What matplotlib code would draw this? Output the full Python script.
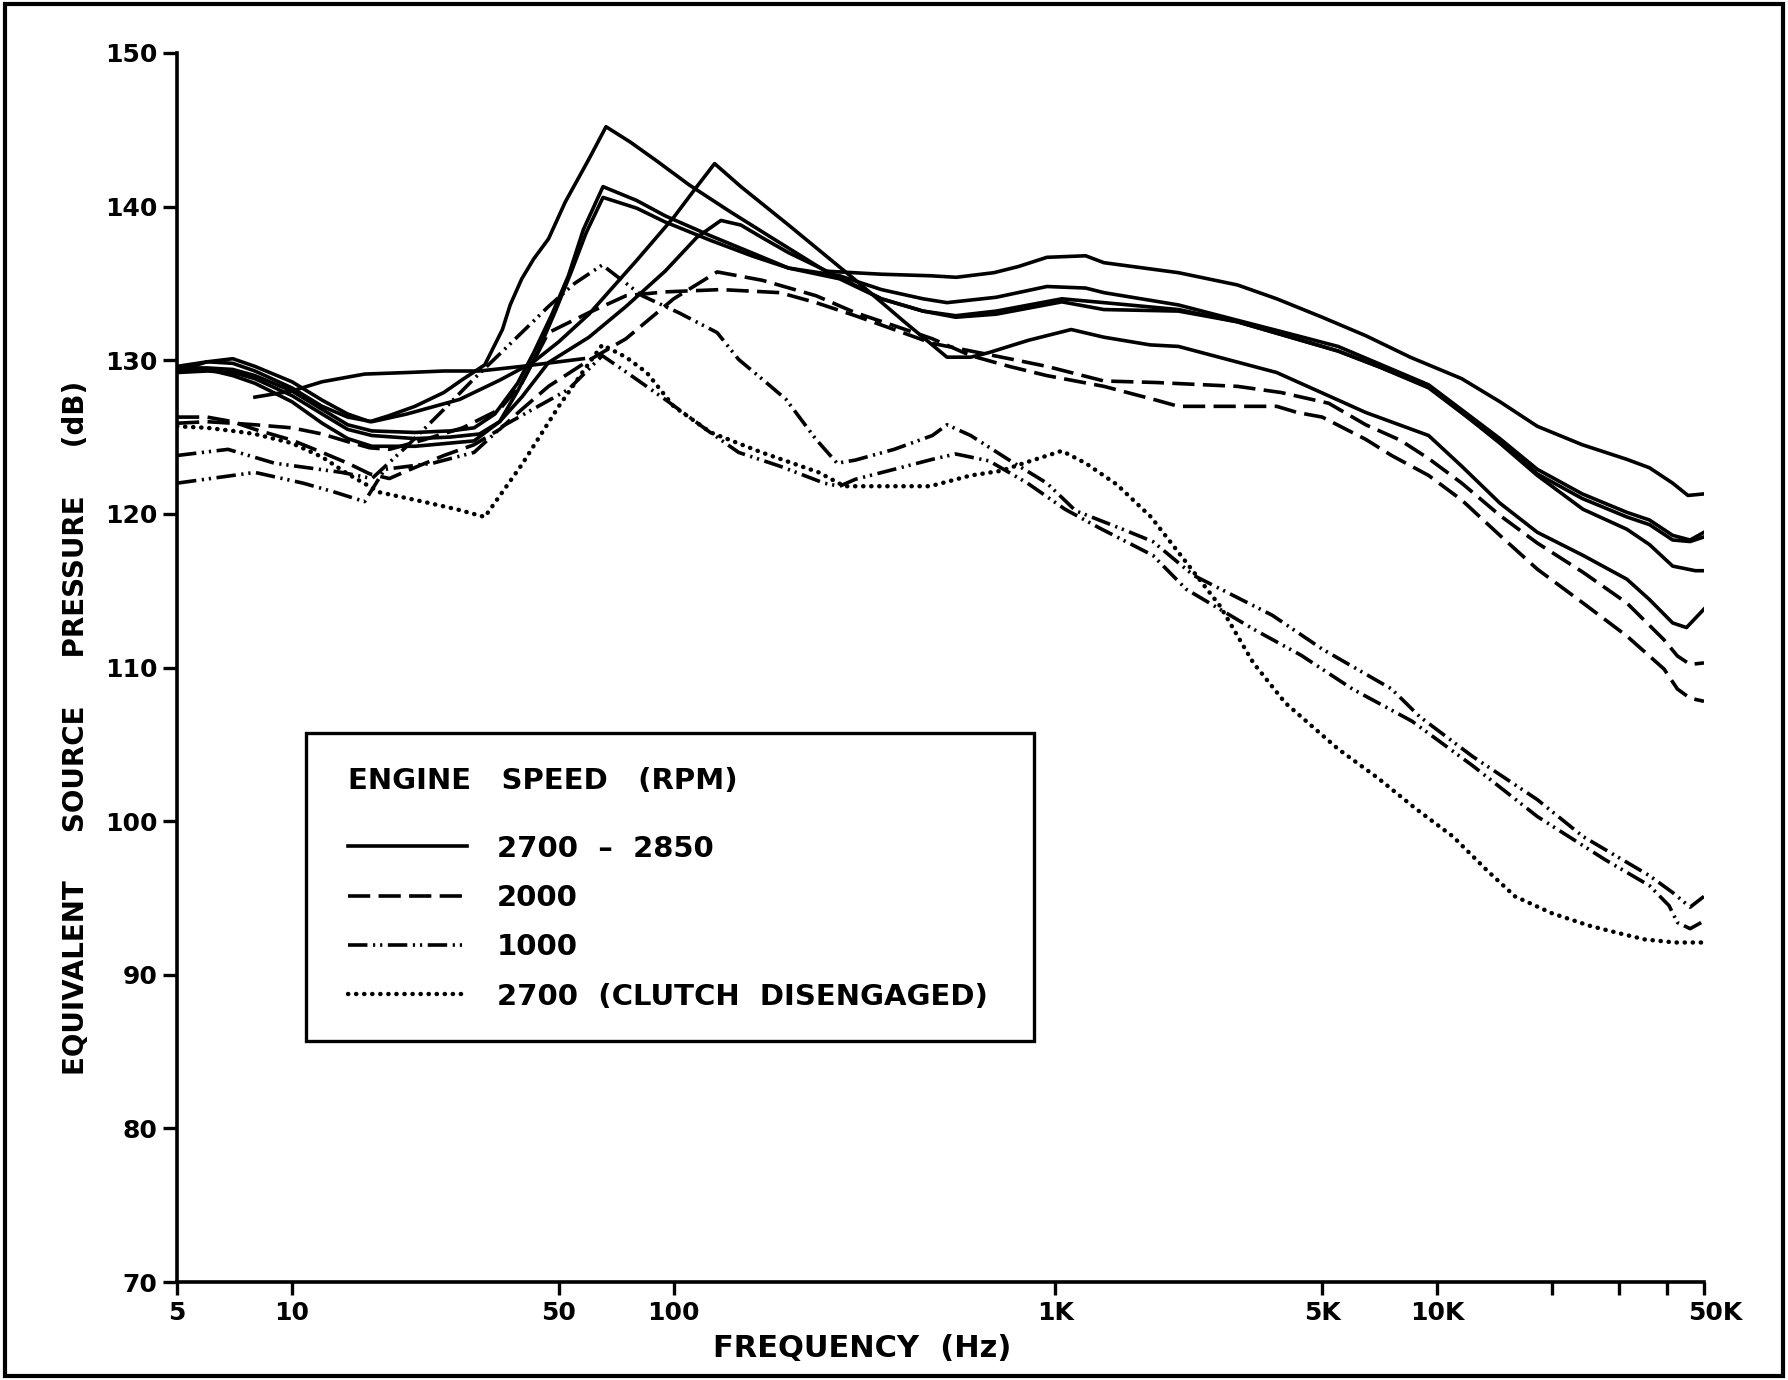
import matplotlib
matplotlib.use("Agg")
import matplotlib.pyplot as plt
import matplotlib.transforms as mtransforms
from matplotlib.lines import Line2D
from matplotlib.patches import Rectangle

plt.rcParams["font.family"] = ["DejaVu Sans"]
plt.rcParams["font.weight"] = "bold"
plt.rcParams["lines.scale_dashes"] = False

# ---- data: frequency (Hz) and level (dB) ----
# 2700-2850 rpm, solid lines
s1_f = [5, 6, 7, 8, 10, 12, 14, 16, 18, 21, 25, 28, 32, 35.6, 37.3, 40, 43, 47, 52, 60, 66.5, 77, 90, 110, 140, 180,
        250, 350, 470, 550, 690, 800, 950, 1200, 1340, 2100, 3000, 3800, 5000, 6500, 8500, 11600, 14600, 18300,
        24000, 31400, 36000, 41400, 45400, 50000]
s1_db = [129.3, 129.9, 130.1, 129.6, 128.6, 127.4, 126.5, 126.0, 126.4, 127.0, 127.9, 128.75, 129.7, 132.0, 133.6,
         135.3, 136.6, 137.9, 140.3, 143.1, 145.2, 144.2, 143.0, 141.4, 139.7, 138.0, 135.8, 135.6, 135.5, 135.4,
         135.7, 136.1, 136.7, 136.8, 136.35, 135.7, 134.9, 134.0, 132.8, 131.6, 130.2, 128.8, 127.3, 125.7, 124.5,
         123.55, 123.0, 122.0, 121.2, 121.3]

s2_f = [5, 6, 7, 8, 10, 12, 14, 16.2, 21, 26, 30, 34, 39, 43, 48, 53, 58, 65.3, 80, 95, 125, 160, 200, 272, 350,
        450, 520, 700, 950, 1200, 1340, 2100, 3000, 4000, 5500, 7000, 9500, 12000, 14600, 18300, 24000, 31400,
        36000, 41400, 46000, 50000]
s2_db = [129.5, 129.5, 129.4, 129.0, 128.0, 126.8, 125.8, 125.4, 125.3, 125.4, 125.6, 126.5, 128.5, 130.5, 133.0,
         135.5, 138.5, 141.3, 140.4, 139.4, 138.1, 137.0, 136.0, 135.5, 134.6, 134.0, 133.75, 134.1, 134.8, 134.7,
         134.4, 133.6, 132.6, 131.8, 130.9, 129.8, 128.4, 126.5, 124.9, 122.9, 121.3, 120.1, 119.6, 118.6, 118.3,
         118.8]

s3_f = [5, 6, 7, 8, 10, 12, 14, 16.2, 21, 26, 31, 35, 39, 44, 49, 54, 59, 65.3, 80, 95, 125, 160, 200, 272, 350,
        450, 548, 700, 1040, 1340, 2100, 3000, 4000, 5500, 7000, 9500, 12000, 14600, 18300, 24000, 31400, 36000,
        41400, 46000, 50000]
s3_db = [129.2, 129.3, 129.2, 128.8, 127.7, 126.5, 125.5, 125.1, 124.9, 125.0, 125.2, 126.0, 128.0, 130.5, 133.2,
         135.8, 138.3, 140.6, 139.9, 139.0, 137.8, 136.8, 136.0, 135.3, 134.0, 133.2, 132.9, 133.2, 134.0, 133.75,
         133.3, 132.5, 131.6, 130.6, 129.6, 128.2, 126.3, 124.7, 122.6, 121.0, 119.8, 119.3, 118.3, 118.2, 118.5]

s4_f = [5, 6, 7, 8, 10, 12, 14, 16.2, 21, 30, 35, 40, 47, 60, 75, 95, 115, 133, 150, 170, 200, 272, 350, 450, 548,
        700, 1040, 1340, 2100, 3000, 4000, 5500, 7000, 9500, 12000, 14600, 18300, 24100, 31400, 36000, 41400,
        47500, 50000]
s4_db = [129.4, 129.4, 129.0, 128.5, 127.3, 125.9, 124.9, 124.4, 124.4, 124.75, 126.0, 127.6, 129.85, 131.5, 133.5,
         135.8, 138.0, 139.1, 138.8, 138.0, 137.0, 135.4, 134.0, 133.2, 132.8, 133.0, 133.8, 133.3, 133.2, 132.5,
         131.6, 130.6, 129.6, 128.3, 126.3, 124.6, 122.5, 120.3, 119.0, 118.0, 116.6, 116.3, 116.3]

s5_f = [5, 6, 7, 8, 10, 12, 14, 16.2, 20, 27.5, 35, 42.7, 50, 60, 80, 100, 115, 128, 150, 200, 300, 400, 520, 600,
        670, 850, 1100, 1340, 1770, 2100, 3800, 6500, 9500, 11600, 14600, 18300, 24100, 31400, 35900, 41400,
        45000, 50000]
s5_db = [129.6, 129.9, 129.8, 129.3, 128.2, 127.0, 126.3, 126.0, 126.5, 127.45, 128.7, 129.85, 131.2, 133.0, 136.5,
         139.3, 141.3, 142.8, 141.3, 138.8, 135.2, 132.55, 130.2, 130.2, 130.5, 131.3, 132.0, 131.5, 131.0, 130.9,
         129.2, 126.6, 125.1, 123.1, 120.7, 118.8, 117.3, 115.75, 114.45, 112.9, 112.6, 113.8]

s6_f = [8, 10, 12, 15.5, 20, 25, 31, 40, 50, 58]
s6_db = [127.6, 128.0, 128.6, 129.1, 129.2, 129.3, 129.3, 129.6, 129.9, 130.1]

# 2000 rpm, dashed
d1_f = [5, 6, 7, 8, 10, 12, 14, 16, 18, 20, 25, 30, 35, 40, 47, 60, 75, 100, 130, 171, 236, 299, 378, 476, 600, 757,
        950, 1340, 1840, 2100, 3800, 4300, 5000, 6500, 7600, 9500, 11600, 14600, 18300, 24100, 31400, 39300,
        42600, 46000, 50000]
d1_db = [126.3, 126.3, 126.0, 125.5, 124.8, 124.0, 123.3, 122.6, 122.3, 122.8, 123.8, 124.5, 125.5, 126.8, 128.3,
         130.0, 131.4, 134.0, 135.75, 135.2, 134.2, 133.1, 132.25, 131.4, 130.3, 129.6, 129.0, 128.3, 127.4, 127.0,
         127.0, 126.6, 126.3, 124.85, 123.8, 122.5, 120.9, 118.6, 116.4, 114.2, 112.05, 109.9, 108.6, 108.0, 107.8]

d2_f = [5, 6, 7, 8, 10, 12, 14, 16, 18, 22, 28, 35, 40, 47, 60, 75, 95, 133, 190, 236, 299, 378, 476, 757, 950, 1340,
        1840, 3000, 3900, 5200, 6500, 8000, 9500, 11600, 14600, 18300, 24100, 31400, 39300, 42600, 46000, 50000]
d2_db = [125.9, 126.0, 125.9, 125.8, 125.6, 125.2, 124.7, 124.3, 124.2, 124.8, 125.6, 126.8, 128.5, 131.8, 133.1,
         134.2, 134.45, 134.6, 134.4, 133.75, 132.9, 132.0, 131.1, 130.1, 129.6, 128.65, 128.55, 128.3, 127.9,
         127.2, 125.8, 124.8, 123.6, 122.0, 119.9, 118.1, 116.2, 114.2, 111.8, 110.75, 110.2, 110.3]

# 1000 rpm, dash-dot-dot
dd1_f = [5, 6.8, 9, 13.5, 16.2, 20, 25, 30, 35, 40, 47, 55, 65, 82.7, 103, 130, 148, 171, 197, 236, 268, 299, 378,
         476, 520, 600, 757, 950, 1130, 1500, 1800, 2300, 3700, 5000, 7600, 9000, 12400, 18300, 24100, 36000,
         41400, 46000, 50000]
dd1_db = [123.8, 124.2, 123.3, 122.7, 122.3, 124.4, 126.8, 128.8, 130.4, 131.8, 133.5, 135.0, 136.2, 134.2, 133.1,
          131.8, 130.05, 128.75, 127.45, 124.85, 123.3, 123.5, 124.2, 125.1, 125.8, 125.1, 123.5, 122.0, 120.2,
          119.0, 118.2, 116.0, 113.4, 111.2, 108.6, 106.8, 104.2, 101.4, 99.0, 96.45, 95.35, 94.4, 95.1]

dd2_f = [5, 8, 10.7, 13, 15.5, 17.5, 23.4, 30, 35.6, 42.7, 53, 65, 75.4, 95, 124.7, 148, 190, 248, 272, 299, 378, 476,
         548, 670, 845, 1060, 1300, 1800, 2200, 3300, 4400, 6000, 8600, 12400, 18300, 27500, 36000, 40500, 42600,
         46000, 50000]
dd2_db = [122.0, 122.7, 122.0, 121.4, 120.8, 122.9, 123.3, 124.0, 125.7, 126.8, 128.1, 130.3, 129.2, 127.45, 125.3,
          124.0, 123.1, 122.0, 121.8, 122.25, 122.9, 123.55, 123.9, 123.45, 122.0, 120.3, 119.1, 117.3, 115.1,
          112.5, 110.8, 108.6, 106.5, 103.6, 100.3, 97.5, 95.8, 94.5, 93.4, 93.0, 93.5]

# 2700 rpm clutch disengaged, dotted
dt_f = [5, 6, 7, 8, 10, 12, 14, 17, 22, 27, 32, 40, 50, 58, 65, 75, 85, 100, 125, 170, 240, 280, 350, 470, 600, 720,
        850, 1040, 1200, 1450, 1780, 2100, 2700, 3300, 4000, 5500, 7000, 8800, 11000, 13500, 16000, 20000, 25000,
        30000, 35000, 42000, 50000]
dt_db = [125.7, 125.6, 125.4, 125.2, 124.6, 123.7, 122.6, 121.4, 120.8, 120.3, 119.8, 123.2, 127.0, 129.3, 131.0,
         130.2, 129.2, 127.0, 125.3, 124.0, 122.7, 121.8, 121.8, 121.8, 122.5, 122.8, 123.4, 124.1, 123.3, 121.9,
         119.8, 117.5, 114.0, 110.3, 107.7, 104.7, 102.8, 100.8, 99.0, 96.8, 95.1, 94.0, 93.2, 92.7, 92.3, 92.1,
         92.1]

tick_freqs = [5, 10, 50, 100, 1000, 5000, 10000, 20000, 30000, 40000, 50000]
tick_names = ["5", "10", "50", "100", "1K", "5K", "10K", "", "", "", "50K"]
db_ticks = [70, 80, 90, 100, 110, 120, 130, 140, 150]

legend_names = ["2700  –  2850", "2000", "1000", "2700  (CLUTCH  DISENGAGED)"]

# line styles
solid_kw = dict(color="black", lw=2.6, linestyle="-")
dash_kw = dict(color="black", lw=2.6, linestyle=(0, (16, 6)))
dashdot_kw = dict(color="black", lw=2.6, linestyle=(0, (14, 4, 1.6, 3.5, 1.6, 4)))
dot_kw = dict(color="black", lw=3.2, linestyle=(0, (0.2, 5.6)), dash_capstyle="round")

fig = plt.figure(figsize=(17.88, 13.8), dpi=100)
ax = fig.add_axes([0.099, 0.071, 0.854, 0.8906])

for f, db in [(s1_f, s1_db), (s2_f, s2_db), (s3_f, s3_db), (s4_f, s4_db), (s5_f, s5_db), (s6_f, s6_db)]:
    ax.plot(f, db, **solid_kw)
for f, db in [(d1_f, d1_db), (d2_f, d2_db)]:
    ax.plot(f, db, **dash_kw)
for f, db in [(dd1_f, dd1_db), (dd2_f, dd2_db)]:
    ax.plot(f, db, **dashdot_kw)
ax.plot(dt_f, dt_db, **dot_kw)

ax.set_xscale("log")
ax.set_xlim(5, 50000)
ax.set_ylim(70, 150)
ax.set_xticks(tick_freqs)
ax.set_xticklabels(tick_names)
ax.xaxis.set_minor_locator(matplotlib.ticker.NullLocator())
ax.set_yticks(db_ticks)
ax.set_yticklabels([str(v) for v in db_ticks])

for side in ["top", "right"]:
    ax.spines[side].set_visible(False)
for side in ["left", "bottom"]:
    ax.spines[side].set_linewidth(2.6)
ax.tick_params(axis="both", direction="out", width=2.4, colors="black", labelsize=18)
ax.tick_params(axis="x", length=9, pad=5)
ax.tick_params(axis="y", length=10, pad=4)

# the 50K label sits a little to the right of its tick in the original
last_lab = ax.get_xticklabels()[-1]
last_lab.set_transform(last_lab.get_transform() + mtransforms.ScaledTranslation(0.11, 0, fig.dpi_scale_trans))

ax.text(0.449, -0.054, "FREQUENCY  (Hz)", transform=ax.transAxes, ha="center", va="center", fontsize=22)
ax.text(-0.066, 0.451, "EQUIVALENT     SOURCE     PRESSURE     (dB)", transform=ax.transAxes,
        ha="center", va="center", rotation=90, fontsize=20)

# legend box
ax.add_patch(Rectangle((0.0842, 0.196), 0.477, 0.2505, transform=ax.transAxes, fill=False,
                       edgecolor="black", lw=2.4, zorder=5))
ax.text(0.1119, 0.4075, "ENGINE   SPEED   (RPM)", transform=ax.transAxes, ha="left", va="center", fontsize=21)
handles = [Line2D([], [], **solid_kw), Line2D([], [], **dash_kw),
           Line2D([], [], **dashdot_kw), Line2D([], [], **dot_kw)]
ax.legend(handles, legend_names, loc="upper left", bbox_to_anchor=(0.1119, 0.364), frameon=False,
          fontsize=21, handlelength=4.1, handletextpad=1.0, labelspacing=0.73, borderpad=0, borderaxespad=0)

# outer frame
fig.add_artist(Rectangle((0.003, 0.003), 0.994, 0.994, transform=fig.transFigure, fill=False,
                         edgecolor="black", lw=3))

fig.savefig("out.png", dpi=100)
